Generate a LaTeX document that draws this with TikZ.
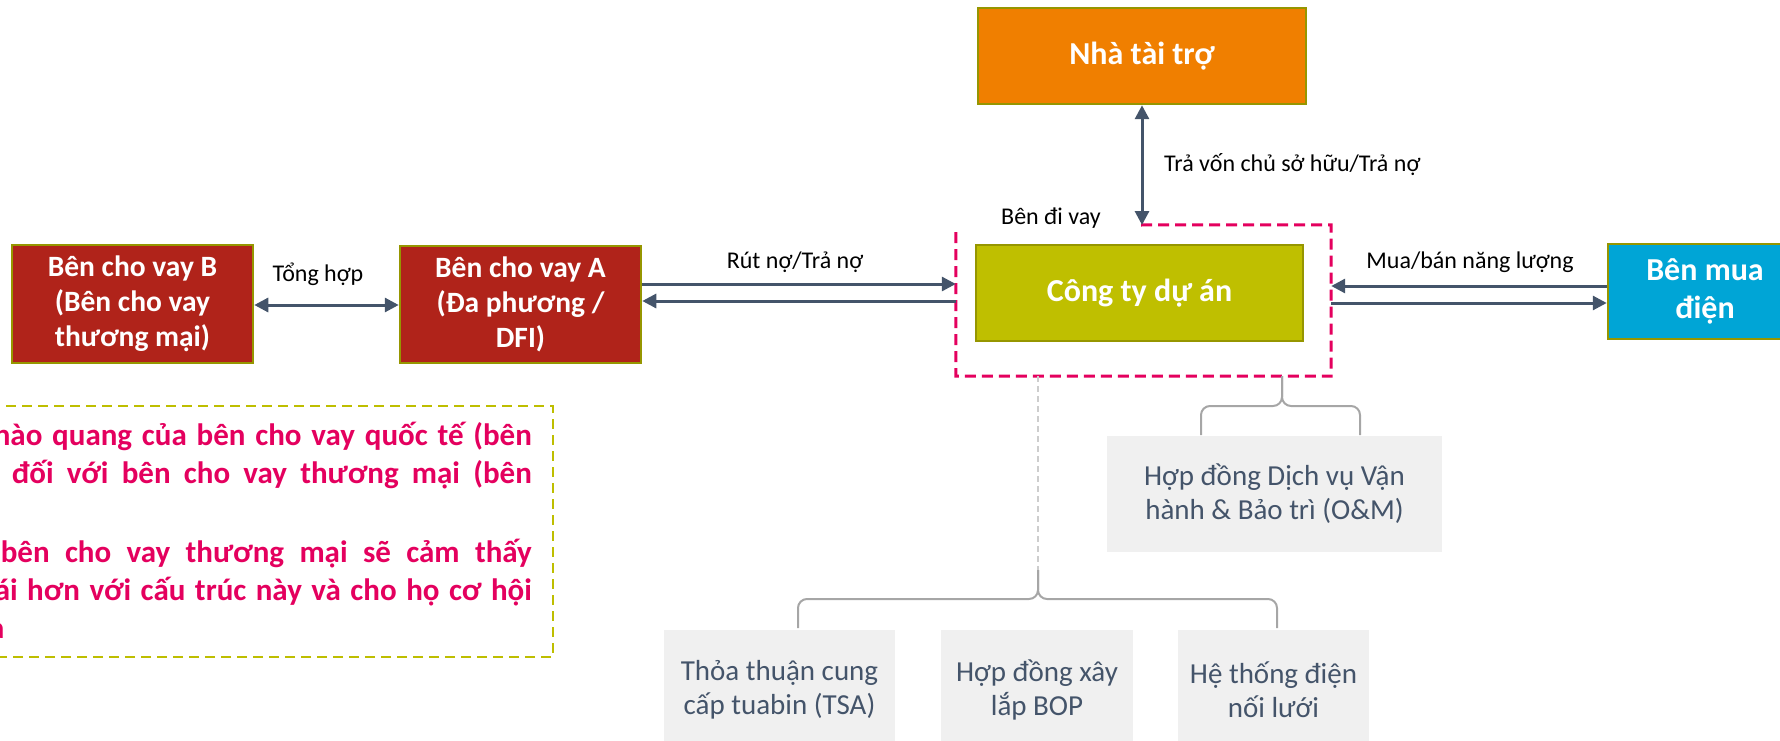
\documentclass[tikz,border=0pt]{standalone}
\usepackage{fontspec}
\setmainfont{Carlito}
\usetikzlibrary{arrows.meta}
\definecolor{cred}{RGB}{176,35,26}
\definecolor{corange}{RGB}{240,127,0}
\definecolor{colive}{RGB}{191,191,0}
\definecolor{cblue}{RGB}{0,165,214}
\definecolor{cborder}{RGB}{150,150,0}
\definecolor{carrow}{RGB}{68,84,106}
\definecolor{cpink}{RGB}{228,0,94}
\definecolor{cnote}{RGB}{190,190,0}
\definecolor{cgrayfill}{RGB}{240,240,240}
\definecolor{cbrace}{RGB}{166,166,166}
\definecolor{cgdash}{RGB}{205,205,205}
\begin{document}
\begin{tikzpicture}[x=1pt,y=-1pt,
  box/.style={draw=cborder, line width=2.5pt, inner sep=0pt, align=center, text=white,
    font={\fontsize{29.5}{35}\selectfont\bfseries}},
  bigbox/.style={box, font={\fontsize{32}{38}\selectfont\bfseries}},
  graybox/.style={fill=cgrayfill, inner sep=0pt, align=center, text=carrow,
    font={\fontsize{29}{34}\selectfont}},
  arr/.style={draw=carrow, line width=3pt, -{Triangle[length=14pt,width=14pt]}},
  darr/.style={draw=carrow, line width=3pt, {Triangle[length=14pt,width=14pt]}-{Triangle[length=14pt,width=14pt]}},
  lbl/.style={font={\fontsize{24}{28}\selectfont}, text=black, inner sep=0pt},
  pinkdash/.style={draw=cpink, line width=3pt, dash pattern=on 11pt off 6pt},
  notedash/.style={draw=cnote, line width=2pt, dash pattern=on 10pt off 6pt},
  brace/.style={draw=cbrace, line width=2pt, rounded corners=9pt},
  gdash/.style={draw=cgdash, line width=1.5pt, dash pattern=on 6pt off 4pt},
  notetext/.style={font={\fontsize{31}{38}\selectfont\bfseries}, text=cpink, inner sep=0pt}
]
\useasboundingbox (0,0) rectangle (1780,741);
\clip (0,0) rectangle (1780,741);

% main boxes
\node[bigbox, fill=corange, minimum width=328pt, minimum height=96pt] (nha) at (1142,56) {Nhà tài trợ};
\node[bigbox, fill=colive, minimum width=327pt, minimum height=96pt] (comp) at (1139.5,293) {Công ty dự án};
\node[box, fill=cred, minimum width=241pt, minimum height=117pt] (A) at (520.5,304.5) {Bên cho vay A\\(Đa phương /\\DFI)};
\node[box, fill=cred, minimum width=241pt, minimum height=118pt] (B) at (132.5,304) {Bên cho vay B\\(Bên cho vay\\thương mại)};
\node[bigbox, fill=cblue, minimum width=194pt, minimum height=95pt] (mua) at (1705,291.5) {Bên mua\\điện};

% borrower frame
\node[minimum width=375pt, minimum height=151pt, inner sep=0pt] (bor) at (1143.5,300.5) {};
\coordinate (ftop) at (1141,225);
\draw[pinkdash] (ftop) -- (bor.north east) -- (bor.south east) -- (bor.south west) -- ([yshift=-3pt]bor.north west);
\node[lbl, anchor=center] (benvay) at (1051,218) {Bên đi vay};

% contract boxes
\node[graybox, minimum width=335pt, minimum height=116pt] (om) at (1274.5,494) {Hợp đồng Dịch vụ Vận\\hành \& Bảo trì (O\&M)};
\node[graybox, minimum width=231pt, minimum height=120pt] (tsa) at (779.5,690) {Thỏa thuận cung\\cấp tuabin (TSA)};
\node[graybox, minimum width=192pt, minimum height=120pt] (bop) at (1037,690) {Hợp đồng xây\\lắp BOP};
\node[graybox, minimum width=191pt, minimum height=120pt] (grid) at (1273.5,690) {Hệ thống điện\\nối lưới};

% arrows
\coordinate (yab) at (0,305);
\coordinate (yac1) at (0,284);
\coordinate (yac2) at (0,301);
\coordinate (ycm1) at (0,286);
\coordinate (ycm2) at (0,303);
\draw[darr] (B.east |- yab) -- (A.west |- yab);
\draw[arr] (A.east |- yac1) -- (bor.west |- yac1);
\draw[arr] (bor.west |- yac2) -- (A.east |- yac2);
\draw[arr] (mua.west |- ycm1) -- (bor.east |- ycm1);
\draw[arr] (bor.east |- ycm2) -- (mua.west |- ycm2);
\draw[darr] (nha.south) -- (nha.south |- ftop);

% labels
\node[lbl] (l1) at (318,274) {Tổng hợp};
\node[lbl] (l2) at (795,262) {Rút nợ/Trả nợ};
\node[lbl] (l3) at (1470,262) {Mua/bán năng lượng};
\node[lbl, anchor=west] (l4) at (1164,165) {Trả vốn chủ sở hữu/Trả nợ};

% braces
\coordinate (tipB) at (1038,570);
\coordinate (tipO) at (1282,376);
\draw[gdash] (tipB |- bor.south) -- (tipB);
\draw[brace] (798,628) -- (798,599) -- (tipB |- 0,599) -- (tipB);
\draw[brace] (tipB) -- (tipB |- 0,599) -- (1277,599) -- (1277,628);
\draw[brace] (1201,435) -- (1201,406) -- (tipO |- 0,406) -- (tipO);
\draw[brace] (tipO) -- (tipO |- 0,406) -- (1360,406) -- (1360,435);

% note box
\draw[notedash] (-10,406) -- (553,406) -- (553,657) -- (-10,657);
\node[notetext, anchor=base east] (n1) at (532,445) {\hbox to 538pt{\spaceskip=.2em plus 1fil\relax hào quang của bên cho vay quốc tế (bên}};
\node[notetext, anchor=base east] (n2) at (532,483) {\hbox to 520pt{\spaceskip=.2em plus 1fil\relax đối với bên cho vay thương mại (bên}};
\node[notetext, anchor=base east] (n3) at (532,562) {\hbox to 531pt{\spaceskip=.2em plus 1fil\relax bên cho vay thương mại sẽ cảm thấy}};
\node[notetext, anchor=base east] (n4) at (532,600) {\hbox to 537pt{\spaceskip=.2em plus 1fil\relax ái hơn với cấu trúc này và cho họ cơ hội}};
\node[notetext, anchor=base west] (n5) at (-11,638) {a};
\end{tikzpicture}
\end{document}
